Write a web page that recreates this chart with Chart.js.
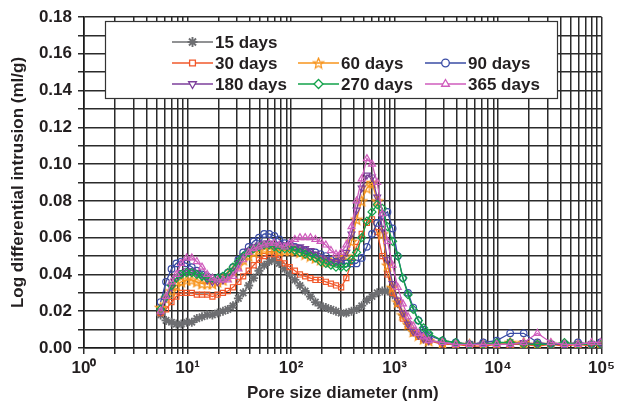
<!DOCTYPE html>
<html>
<head>
<meta charset="utf-8">
<script src="https://cdn.jsdelivr.net/npm/chart.js@4.4.1/dist/chart.umd.min.js"></script>
<style>
  html, body { margin: 0; padding: 0; background: #fff; }
</style>
</head>
<body>
<canvas id="chart" width="619" height="405"></canvas>
<script>
// Pore size (nm)
const poreSize = [5.5, 6.2, 7, 7.8, 8.7, 9.8, 11, 12.3, 13.8, 15.5, 17.4, 19.5,
  22, 24.5, 27.5, 31, 34.5, 39, 43.5, 49, 55, 61.5, 69, 77,
  87, 97, 109, 122, 137, 154, 172, 193, 217, 243, 272, 305,
  342, 384, 430, 482, 541, 606, 680, 762, 855, 958, 1075, 1205,
  1350, 1515, 1700, 1905, 2140, 2900, 3900, 5300, 7200, 9700,
  13100, 17700, 24000, 32400, 43800, 59200, 80000, 98000];

// Log differential intrusion (ml/g)
const days15 = [0.018, 0.015, 0.014, 0.013, 0.013, 0.014, 0.014, 0.016, 0.017, 0.018, 0.018, 0.019,
  0.020, 0.021, 0.023, 0.027, 0.030, 0.034, 0.038, 0.042, 0.045, 0.047, 0.048, 0.046,
  0.043, 0.040, 0.037, 0.034, 0.031, 0.028, 0.025, 0.023, 0.022, 0.021, 0.020, 0.019,
  0.019, 0.020, 0.021, 0.023, 0.026, 0.028, 0.030, 0.031, 0.031, 0.029, 0.024, 0.018,
  0.013, 0.009, 0.007, 0.005, 0.004, 0.003, 0.002, 0.002, 0.002, 0.002,
  0.003, 0.002, 0.002, 0.002, 0.002, 0.002, 0.002, 0.003];
const days30 = [0.019, 0.021, 0.025, 0.028, 0.030, 0.030, 0.030, 0.029, 0.029, 0.029, 0.028, 0.029,
  0.030, 0.031, 0.033, 0.036, 0.039, 0.042, 0.045, 0.048, 0.050, 0.051, 0.051, 0.049,
  0.046, 0.044, 0.042, 0.040, 0.039, 0.038, 0.037, 0.037, 0.036, 0.035, 0.034, 0.033,
  0.038, 0.047, 0.055, 0.062, 0.068, 0.070, 0.063, 0.050, 0.040, 0.030, 0.024, 0.016,
  0.012, 0.008, 0.006, 0.005, 0.004, 0.002, 0.002, 0.001, 0.001, 0.002,
  0.002, 0.002, 0.001, 0.002, 0.001, 0.002, 0.001, 0.002];
const days60 = [0.022, 0.027, 0.031, 0.034, 0.036, 0.037, 0.037, 0.036, 0.035, 0.035, 0.035, 0.036,
  0.037, 0.039, 0.042, 0.045, 0.048, 0.050, 0.052, 0.053, 0.054, 0.054, 0.054, 0.053,
  0.053, 0.053, 0.053, 0.052, 0.051, 0.050, 0.049, 0.048, 0.047, 0.047, 0.047, 0.048,
  0.050, 0.058, 0.070, 0.080, 0.087, 0.090, 0.080, 0.062, 0.045, 0.033, 0.025, 0.018,
  0.013, 0.009, 0.007, 0.005, 0.004, 0.003, 0.002, 0.002, 0.002, 0.002,
  0.003, 0.003, 0.002, 0.002, 0.002, 0.002, 0.002, 0.002];
const days90 = [0.025, 0.036, 0.043, 0.046, 0.047, 0.046, 0.044, 0.042, 0.040, 0.039, 0.038, 0.038,
  0.039, 0.041, 0.044, 0.048, 0.052, 0.055, 0.058, 0.060, 0.062, 0.062, 0.061, 0.059,
  0.057, 0.056, 0.055, 0.054, 0.053, 0.052, 0.052, 0.051, 0.050, 0.048, 0.047, 0.046,
  0.046, 0.046, 0.046, 0.049, 0.055, 0.062, 0.068, 0.072, 0.074, 0.065, 0.050, 0.038,
  0.030, 0.022, 0.015, 0.010, 0.007, 0.004, 0.003, 0.002, 0.003, 0.004,
  0.008, 0.008, 0.003, 0.002, 0.002, 0.003, 0.002, 0.003];
const days180 = [0.020, 0.027, 0.033, 0.038, 0.041, 0.042, 0.042, 0.041, 0.039, 0.037, 0.036, 0.036,
  0.037, 0.039, 0.042, 0.046, 0.050, 0.053, 0.055, 0.056, 0.057, 0.057, 0.056, 0.056,
  0.056, 0.056, 0.055, 0.055, 0.054, 0.053, 0.051, 0.049, 0.048, 0.047, 0.047, 0.048,
  0.052, 0.062, 0.075, 0.087, 0.094, 0.093, 0.082, 0.065, 0.048, 0.035, 0.026, 0.019,
  0.013, 0.009, 0.007, 0.005, 0.004, 0.003, 0.002, 0.002, 0.002, 0.002,
  0.002, 0.003, 0.002, 0.002, 0.002, 0.002, 0.002, 0.002];
const days270 = [0.021, 0.028, 0.034, 0.038, 0.040, 0.041, 0.041, 0.040, 0.039, 0.038, 0.038, 0.038,
  0.039, 0.041, 0.044, 0.047, 0.050, 0.052, 0.054, 0.055, 0.056, 0.056, 0.055, 0.054,
  0.054, 0.054, 0.053, 0.052, 0.051, 0.050, 0.049, 0.047, 0.046, 0.045, 0.044, 0.044,
  0.044, 0.048, 0.052, 0.060, 0.069, 0.074, 0.078, 0.076, 0.066, 0.058, 0.050, 0.038,
  0.029, 0.021, 0.015, 0.011, 0.008, 0.004, 0.003, 0.002, 0.002, 0.003,
  0.003, 0.002, 0.002, 0.002, 0.003, 0.002, 0.002, 0.002];
const days365 = [0.020, 0.028, 0.036, 0.040, 0.046, 0.049, 0.049, 0.047, 0.044, 0.040, 0.038, 0.037,
  0.037, 0.037, 0.039, 0.043, 0.048, 0.052, 0.054, 0.055, 0.056, 0.057, 0.057, 0.056,
  0.055, 0.057, 0.059, 0.060, 0.060, 0.060, 0.059, 0.058, 0.056, 0.053, 0.051, 0.052,
  0.056, 0.066, 0.080, 0.092, 0.103, 0.100, 0.090, 0.073, 0.058, 0.045, 0.033, 0.024,
  0.017, 0.012, 0.008, 0.006, 0.004, 0.003, 0.002, 0.002, 0.002, 0.002,
  0.002, 0.003, 0.008, 0.003, 0.002, 0.002, 0.003, 0.003];

const seriesNames = ['15 days', '30 days', '60 days', '90 days', '180 days', '270 days', '365 days'];
const seriesValues = [days15, days30, days60, days90, days180, days270, days365];

const xDecadeLabels = ['10\u2070', '10\u00b9', '10\u00b2', '10\u00b3', '10\u2074', '10\u2075'];

const FONT = "'Liberation Sans', Arial, sans-serif";
const INK = '#231f20';

// open five-point star for the 60 days markers
function starImage(color) {
  const c = document.createElement('canvas');
  c.width = 13; c.height = 13;
  const g = c.getContext('2d');
  g.strokeStyle = color;
  g.lineWidth = 1.2;
  g.beginPath();
  for (let i = 0; i < 10; i++) {
    const r = i % 2 ? 2.4 : 5.4;
    const a = -Math.PI / 2 + i * Math.PI / 5;
    const px = 6.5 + r * Math.cos(a), py = 7 + r * Math.sin(a);
    if (i) g.lineTo(px, py); else g.moveTo(px, py);
  }
  g.closePath();
  g.stroke();
  return c;
}

const styles = [
  { color: '#6d6e71', point: 'star', radius: 4.5, rot: 0, bw: 1.8 },
  { color: '#f1582b', point: 'rect', radius: 3.6, rot: 0, bw: 1.2 },
  { color: '#f7941d', point: starImage('#f7941d'), radius: 4, rot: 0, bw: 1.2 },
  { color: '#3a4ca5', point: 'circle', radius: 3.3, rot: 0, bw: 1.2 },
  { color: '#7d3f9b', point: 'triangle', radius: 4, rot: 180, bw: 1.2 },
  { color: '#12a24a', point: 'rectRot', radius: 4, rot: 0, bw: 1.2 },
  { color: '#cf5cbc', point: 'triangle', radius: 4, rot: 0, bw: 1.2 }
];

const datasets = seriesNames.map((name, k) => ({
  label: name,
  data: poreSize.map((x, i) => ({ x: x, y: seriesValues[k][i] })),
  borderColor: styles[k].color,
  backgroundColor: 'rgba(255,255,255,0)',
  borderWidth: 1.3,
  pointStyle: styles[k].point,
  pointRadius: styles[k].radius,
  pointRotation: styles[k].rot,
  pointBorderColor: styles[k].color,
  pointBackgroundColor: 'rgba(255,255,255,0)',
  pointBorderWidth: styles[k].bw,
  tension: 0,
  order: seriesNames.length - k
}));

// grid positions: 1..9 x 10^n
const xGrid = [];
for (let e = 0; e < 5; e++) {
  for (let m = 1; m < 10; m++) xGrid.push(m * Math.pow(10, e));
}
xGrid.push(100000);
const yGrid = [];
for (let i = 0; i <= 18; i++) yGrid.push(i / 100);

// legend drawn inside the plot, three rows
const legendSlots = [[0, 0], [1, 0], [1, 1], [1, 2], [2, 0], [2, 1], [2, 2]];
const legendBox = {
  id: 'legendBox',
  afterDraw(chart) {
    const ctx = chart.ctx;
    const box = { left: 105, top: 21, right: 557, bottom: 98 };
    const rowY = [42, 63, 84];
    const colX = [172, 298, 425];
    ctx.save();
    ctx.fillStyle = '#fff';
    ctx.fillRect(box.left, box.top, box.right - box.left, box.bottom - box.top);
    ctx.strokeStyle = '#333';
    ctx.lineWidth = 1.2;
    ctx.strokeRect(box.left + 0.5, box.top + 0.5, box.right - box.left, box.bottom - box.top);
    ctx.font = 'bold 17px ' + FONT;
    ctx.textBaseline = 'middle';
    legendSlots.forEach(([r, c], k) => {
      const s = styles[k];
      const x0 = colX[c], y = rowY[r];
      ctx.strokeStyle = s.color;
      ctx.lineWidth = 1.3;
      ctx.beginPath();
      ctx.moveTo(x0, y);
      ctx.lineTo(x0 + 41, y);
      ctx.stroke();
      ctx.fillStyle = '#fff';
      ctx.strokeStyle = s.color;
      ctx.lineWidth = s.bw + 0.1;
      Chart.helpers.drawPoint(ctx, {
        pointStyle: s.point, radius: s.radius + 0.5, rotation: s.rot, borderWidth: s.bw + 0.1
      }, x0 + 20.5, y);
      ctx.fillStyle = INK;
      ctx.fillText(seriesNames[k], x0 + 43, y + 1);
    });
    ctx.restore();
  }
};

const gridColor = '#2b2b2b';

new Chart(document.getElementById('chart'), {
  type: 'line',
  data: { datasets: datasets },
  plugins: [legendBox],
  options: {
    responsive: false,
    animation: false,
    layout: { padding: { left: 0, right: 12, top: 17, bottom: 0 } },
    plugins: { legend: { display: false }, tooltip: { enabled: false } },
    scales: {
      x: {
        type: 'logarithmic',
        min: 1,
        max: 100000,
        afterBuildTicks: (scale) => { scale.ticks = xGrid.map(v => ({ value: v })); },
        afterFit: (scale) => { scale.height = 57; },
        ticks: {
          autoSkip: false,
          maxRotation: 0,
          padding: 4,
          color: INK,
          font: { family: FONT, size: 17, weight: 'bold' },
          callback: (v) => {
            const e = Math.round(Math.log10(v));
            return Math.abs(v - Math.pow(10, e)) < 1e-9 ? xDecadeLabels[e] : '';
          }
        },
        grid: { color: gridColor, lineWidth: 1.5, tickLength: 6, tickColor: gridColor },
        border: { color: '#1a1a1a', width: 1.6 },
        title: {
          display: true,
          text: 'Pore size diameter (nm)',
          color: INK,
          font: { family: FONT, size: 17, weight: 'bold' },
          padding: { top: 0, bottom: 1 }
        }
      },
      y: {
        min: 0,
        max: 0.18,
        afterBuildTicks: (scale) => { scale.ticks = yGrid.map(v => ({ value: v })); },
        afterFit: (scale) => { scale.width = 84; },
        ticks: {
          autoSkip: false,
          padding: 6,
          color: INK,
          font: { family: FONT, size: 17, weight: 'bold' },
          callback: (v) => {
            const i = Math.round(v * 100);
            return i % 2 === 0 ? (i / 100).toFixed(2) : '';
          }
        },
        grid: { color: gridColor, lineWidth: 1.5, tickLength: 6, tickColor: gridColor },
        border: { color: '#1a1a1a', width: 1.6 },
        title: {
          display: true,
          text: 'Log differential intrusion (ml/g)',
          color: INK,
          font: { family: FONT, size: 17, weight: 'bold' },
          padding: { top: 8, bottom: 0 }
        }
      }
    }
  }
});
</script>
</body>
</html>
